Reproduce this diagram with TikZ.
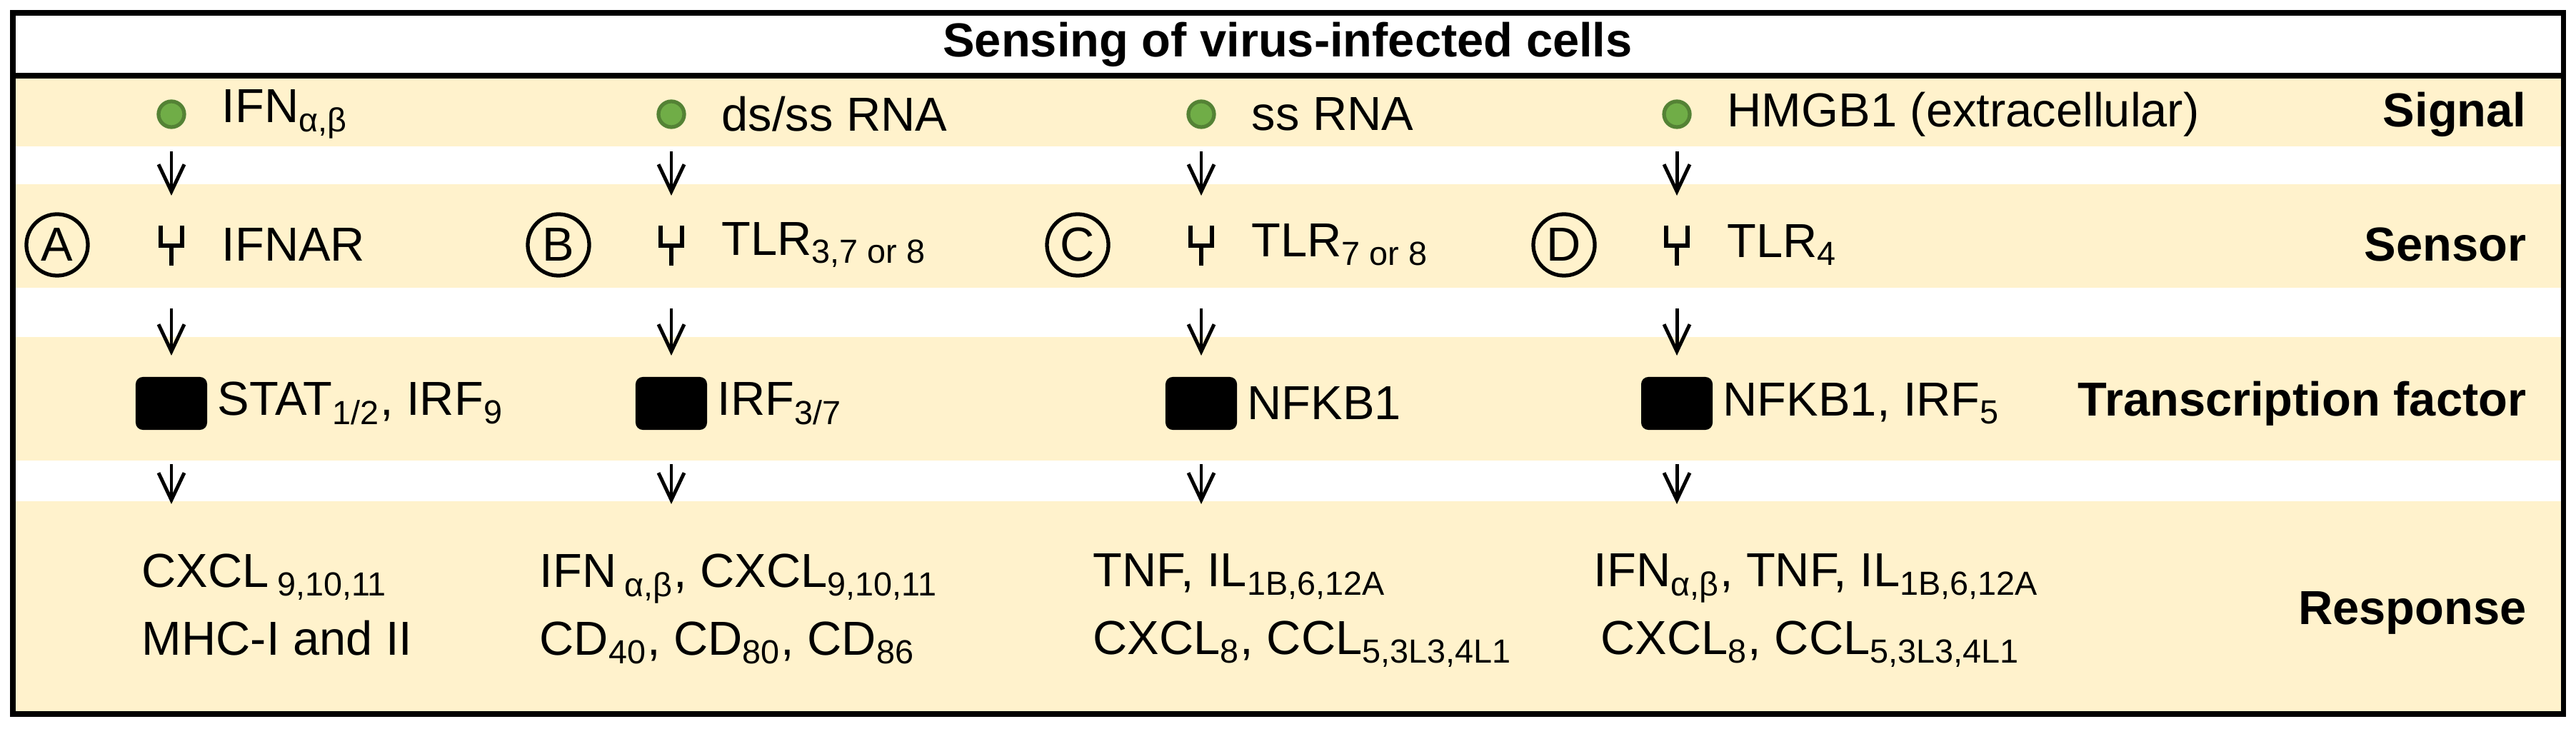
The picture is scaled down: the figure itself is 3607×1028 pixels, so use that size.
\documentclass[tikz,border=0pt]{standalone}
\usepackage{fontspec}
\setmainfont{Liberation Sans}
\usetikzlibrary{arrows.meta}
\definecolor{band}{HTML}{FFF2CC}
\definecolor{dotfill}{HTML}{70AD47}
\definecolor{dotline}{HTML}{548235}
\begin{document}
\begin{tikzpicture}[
    x=0.01cm, y=-0.01cm,
    txt/.style={font=\fontsize{19}{27}\selectfont, inner sep=0pt},
    lbl/.style={font=\fontsize{19}{23}\selectfont\bfseries, inner sep=0pt, anchor=east},
    dot/.style={circle, fill=dotfill, draw=dotline, line width=1.5pt, minimum size=0.36cm, inner sep=0pt},
    tag/.style={circle, draw, line width=1.5pt, minimum size=0.86cm, inner sep=0pt, font=\fontsize{19}{23}\selectfont},
    tfbox/.style={fill=black, rounded corners=0.1cm, minimum width=1cm, minimum height=0.74cm, inner sep=0pt},
    arrow/.style={-{Straight Barb[length=0.38cm, width=0.36cm]}, line width=1.4pt}
]
\useasboundingbox (0,0) rectangle (3607,1028);

% Bands
\fill[band] (18,108) rectangle (3589,205);
\fill[band] (18,258) rectangle (3589,403);
\fill[band] (18,472) rectangle (3589,645);
\fill[band] (18,702) rectangle (3589,998);
\draw[line width=2pt] (18,18) rectangle (3589,1000);
\draw[line width=2pt] (18,106) -- (3589,106);
\node[txt, font=\fontsize{19}{23}\selectfont\bfseries] (title) at (1803,62) {Sensing of virus-infected cells};

% Row labels
\node[lbl] (lsig) at (3538,160) {Signal};
\node[lbl] (lsen) at (3538,343) {Sensor};
\node[lbl] (ltf) at (3538,565) {Transcription factor};
\node[lbl] (lres) at (3538,858) {Response};

% Column A
\node[tag] (A) at (80,343) {A};
\node[dot] (s1) at (240,160) {};
\node[txt, anchor=west] at (310,160) {IFN\textsubscript{α,β}};
\node[txt, anchor=west] at (310,343) {IFNAR};
\node[tfbox] (t1) at (240,565) {};
\node[txt, anchor=west] at (304,565) {STAT\textsubscript{1/2}, IRF\textsubscript{9}};
\node[txt, anchor=north west, align=left] at (198,775) {CXCL\,\textsubscript{9,10,11}\\MHC-I and II};

% Column B
\node[tag] (B) at (782,343) {B};
\node[dot] (s2) at (940,160) {};
\node[txt, anchor=west] at (1010,160) {ds/ss RNA};
\node[txt, anchor=west] at (1010,343) {TLR\textsubscript{3,7 or 8}};
\node[tfbox] (t2) at (940,565) {};
\node[txt, anchor=west] at (1004,565) {IRF\textsubscript{3/7}};
\node[txt, anchor=north west, align=left] at (755,775) {IFN\,\textsubscript{α,β}, CXCL\textsubscript{9,10,11}\\CD\textsubscript{40}, CD\textsubscript{80}, CD\textsubscript{86}};

% Column C
\node[tag] (C) at (1509,343) {C};
\node[dot] (s3) at (1682,160) {};
\node[txt, anchor=west] at (1752,160) {ss RNA};
\node[txt, anchor=west] at (1752,343) {TLR\textsubscript{7 or 8}};
\node[tfbox] (t3) at (1682,565) {};
\node[txt, anchor=west] at (1746,565) {NFKB1};
\node[txt, anchor=north west, align=left] at (1530,775) {TNF, IL\textsubscript{1B,6,12A}\\CXCL\textsubscript{8}, CCL\textsubscript{5,3L3,4L1}};

% Column D
\node[tag] (D) at (2190,343) {D};
\node[dot] (s4) at (2348,160) {};
\node[txt, anchor=west] at (2418,160) {HMGB1 (extracellular)};
\node[txt, anchor=west] at (2418,343) {TLR\textsubscript{4}};
\node[tfbox] (t4) at (2348,565) {};
\node[txt, anchor=west] at (2412,565) {NFKB1, IRF\textsubscript{5}};
\node[txt, anchor=north west, align=left] at (2231,775) {IFN\textsubscript{α,β}, TNF, IL\textsubscript{1B,6,12A}\\\hspace{0.1cm}CXCL\textsubscript{8}, CCL\textsubscript{5,3L3,4L1}};

% Receptors and arrows
\foreach \i/\x in {1/240,2/940,3/1682,4/2348} {
    \draw[line width=1.6pt] (\x-15,316) -- (\x-15,344) -- (\x+15,344) -- (\x+15,316);
    \draw[line width=1.6pt] (\x,344) -- (\x,372);
    \coordinate (a\i) at (\x,212);
    \coordinate (b\i) at (\x,274);
    \coordinate (c\i) at (\x,432);
    \coordinate (d\i) at (\x,498);
    \coordinate (e\i) at (\x,650);
    \coordinate (f\i) at (\x,706);
    \draw[arrow] (a\i) -- (b\i);
    \draw[arrow] (c\i) -- (d\i);
    \draw[arrow] (e\i) -- (f\i);
}

\end{tikzpicture}
\end{document}
